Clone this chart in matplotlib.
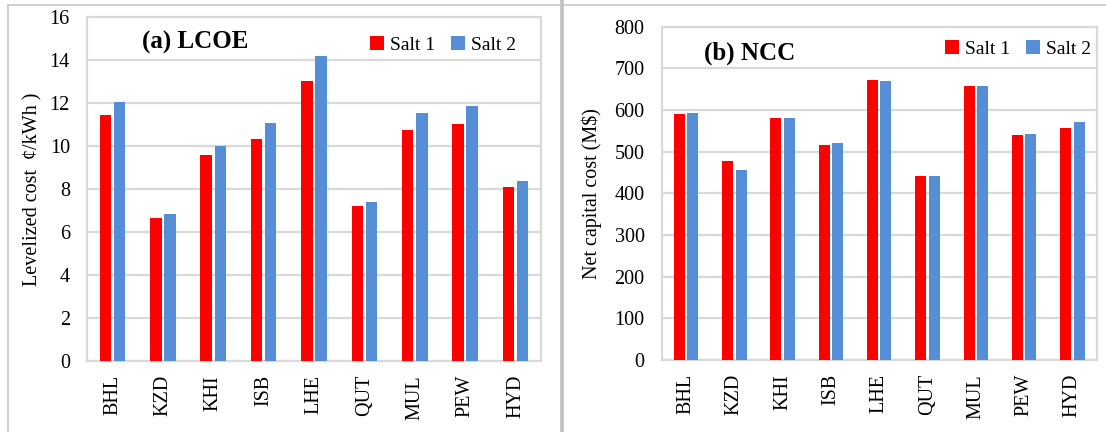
import numpy as np
import matplotlib
matplotlib.use("Agg")
import matplotlib.pyplot as plt
from matplotlib.lines import Line2D

plt.rcParams['font.family'] = ['Liberation Serif', 'DejaVu Serif']

cities = ["BHL", "KZD", "KHI", "ISB", "LHE", "QUT", "MUL", "PEW", "HYD"]
series_names = ["Salt 1", "Salt 2"]

# Levelized cost of electricity (cents/kWh)
lcoe_salt1 = [11.45, 6.65, 9.6, 10.33, 13.05, 7.23, 10.75, 11.05, 8.08]
lcoe_salt2 = [12.05, 6.85, 10.03, 11.07, 14.18, 7.4, 11.55, 11.88, 8.4]

# Net capital cost (M$)
ncc_salt1 = [591, 478, 581, 517, 672, 442, 657, 540, 557]
ncc_salt2 = [593, 456, 581, 520, 670, 442, 658, 543, 571]

RED = "#FF0000"
BLUE = "#558ED5"
GRID = "#D9D9D9"

W, H = 1106, 432
fig = plt.figure(figsize=(W / 100, H / 100), dpi=100)


def px_axes(left, top, right, bottom):
    return fig.add_axes([left / W, 1 - bottom / H, (right - left) / W, (bottom - top) / H])


def draw_panel(ax, s1, s2, ymax, ystep, title, ylabel, title_xy, label_x, legend_xy):
    x = np.arange(len(cities))
    width = 0.228
    gap = 0.05
    ax.bar(x - (width + gap) / 2, s1, width, color=RED, label=series_names[0], zorder=3)
    ax.bar(x + (width + gap) / 2, s2, width, color=BLUE, label=series_names[1], zorder=3)
    ax.set_xlim(-0.5, len(cities) - 0.5)
    ax.set_ylim(0, ymax)
    ax.set_yticks(np.arange(0, ymax + ystep / 2, ystep))
    ax.set_xticks(x)
    ax.set_xticklabels(cities, rotation=90)
    ax.tick_params(axis='both', length=0, labelsize=14.5)
    ax.tick_params(axis='x', pad=10)
    ax.tick_params(axis='y', pad=12.5)
    ax.yaxis.grid(True, color=GRID, lw=1.6, zorder=0)
    for sp in ax.spines.values():
        sp.set_color(GRID)
        sp.set_linewidth(1.6)
    ax.set_ylabel(ylabel, fontsize=14.5)
    ax.yaxis.set_label_coords(label_x, 0.5)
    ax.text(title_xy[0], title_xy[1], title, transform=ax.transAxes, fontsize=18,
            fontweight='bold', va='center', ha='left')
    ax.legend(loc='center right', bbox_to_anchor=legend_xy, ncol=2, frameon=False,
              fontsize=14, handlelength=0.72, handleheight=0.72, handletextpad=0.3,
              columnspacing=0.85, borderaxespad=0, borderpad=0)


ax1 = px_axes(87.3, 17.3, 540.7, 361)
draw_panel(ax1, lcoe_salt1, lcoe_salt2, 16, 2, "(a) LCOE",
           "Levelized cost  \u00a2/kWh )", (0.12, 0.928), -0.098, (0.946, 0.919))

ax2 = px_axes(662, 26.7, 1096.5, 360)
draw_panel(ax2, ncc_salt1, ncc_salt2, 800, 100, "(b) NCC",
           "Net capital cost (M$)", (0.096, 0.921), -0.138, (0.988, 0.933))

# panel frames
def fig_line(xs, ys, lw, color):
    fig.add_artist(Line2D([v / W for v in xs], [1 - v / H for v in ys],
                          transform=fig.transFigure, lw=lw, color=color))

fig_line([7.5, 561], [5.3, 5.3], 1.2, "#C8C8C8")
fig_line([563, W], [5.3, 5.3], 1.2, "#C8C8C8")
fig_line([7.5, 7.5], [5.3, H], 1.2, "#C8C8C8")
fig_line([562, 562], [0, H], 2.6, "#C0C0C0")

fig.savefig("out.png", dpi=100)
